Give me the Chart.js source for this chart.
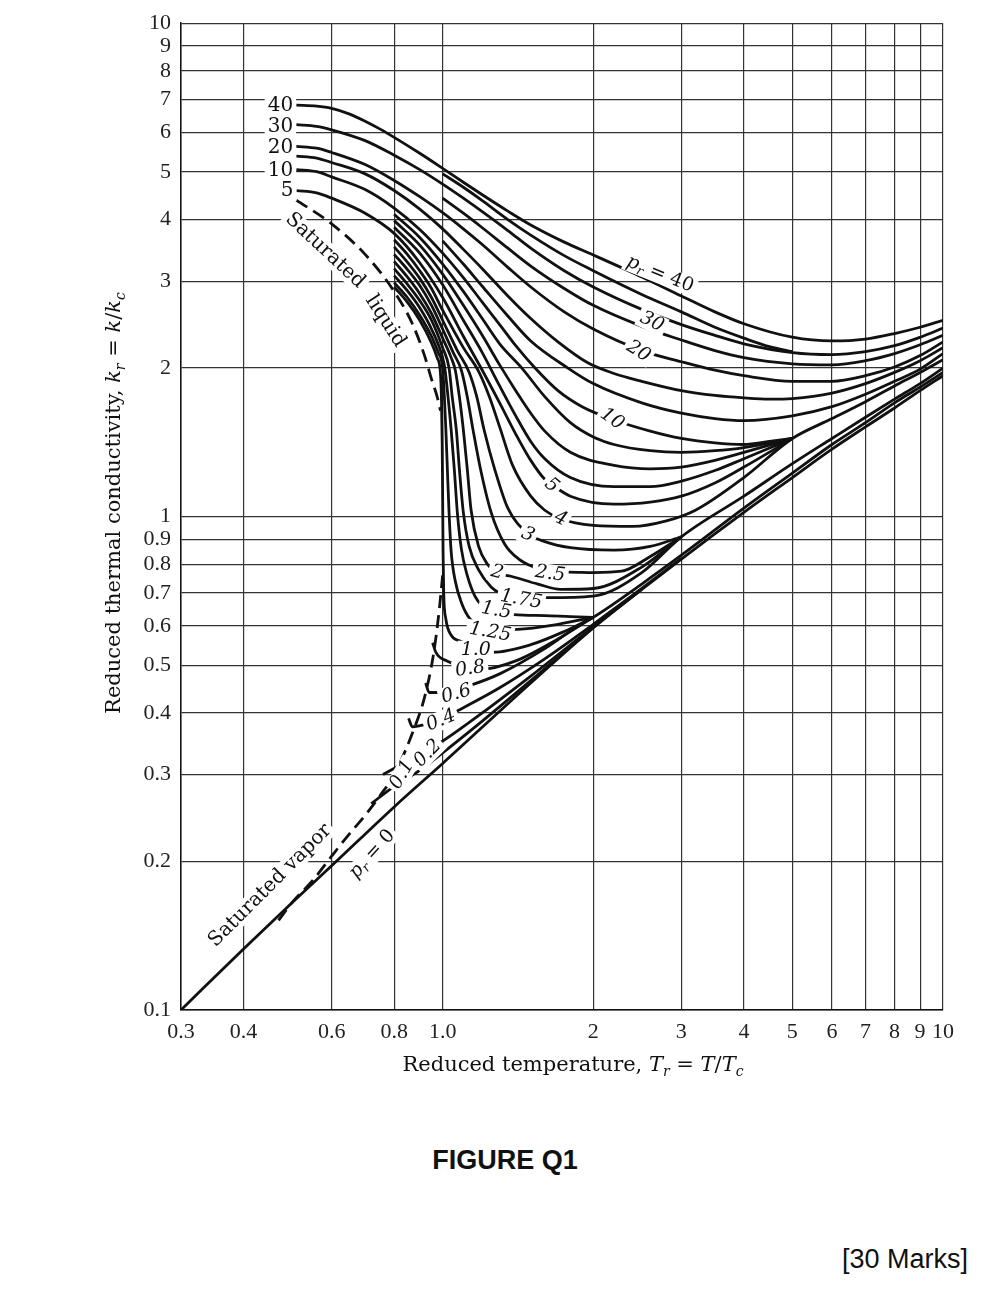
<!DOCTYPE html>
<html>
<head>
<meta charset="utf-8">
<script src="https://cdn.jsdelivr.net/npm/chart.js@4.4.0/dist/chart.umd.min.js"></script>
<style>
  html,body{margin:0;padding:0;background:#fff;}
  #wrap{position:relative;width:1002px;height:1290px;}
  canvas{position:absolute;left:0;top:0;}
  .foot{position:absolute;font-family:"Liberation Sans",Arial,sans-serif;color:#111;}
</style>
</head>
<body>
<div id="wrap">
<canvas id="c" width="1002" height="1100"></canvas>
<div class="foot" style="left:0;width:1010px;top:1145px;text-align:center;font-weight:bold;font-size:27px;">FIGURE Q1</div>
<div class="foot" style="right:34px;top:1244px;font-size:27px;">[30 Marks]</div>
</div>
<script>
// ---------- axis ticks ----------
const xTickVals = [0.3,0.4,0.6,0.8,1,2,3,4,5,6,7,8,9,10];
const xTickLabels = ['0.3','0.4','0.6','0.8','1.0','2','3','4','5','6','7','8','9','10'];
const yTickVals = [0.1,0.2,0.3,0.4,0.5,0.6,0.7,0.8,0.9,1,2,3,4,5,6,7,8,9,10];
const yTickLabels = ['0.1','0.2','0.3','0.4','0.5','0.6','0.7','0.8','0.9','1','2','3','4','5','6','7','8','9','10'];

// ---------- curves [Tr, kr] ----------
const pr40 = [[0.51,6.82],[0.56,6.79],[0.6,6.72],[0.65,6.55],[0.7,6.33],[0.75,6.1],[0.8,5.87],[0.9,5.45],[1.0,5.08],[1.1,4.76],[1.2,4.49],[1.35,4.16],[1.5,3.9],[1.75,3.6],[2,3.39],[2.5,3.06],[3,2.8],[3.5,2.6],[4,2.46],[5,2.31],[6,2.27],[7,2.29],[8,2.35],[9,2.42],[10,2.5]];
const prA  = [[1.0,4.95],[1.1,4.65],[1.2,4.37],[1.35,4.0],[1.5,3.72],[1.75,3.38],[2,3.15],[2.5,2.82],[3,2.6],[3.5,2.42],[4,2.3],[4.5,2.21],[5,2.16]];
const pr30 = [[0.51,6.23],[0.56,6.18],[0.6,6.08],[0.7,5.78],[0.8,5.4],[0.9,5.05],[1.0,4.72],[1.1,4.42],[1.2,4.15],[1.35,3.8],[1.5,3.5],[1.75,3.15],[2,2.92],[2.5,2.63],[3,2.45],[3.5,2.33],[4,2.24],[5,2.15],[6,2.13],[7,2.16],[8,2.22],[9,2.31],[10,2.41]];
const prB  = [[1.0,4.42],[1.1,4.12],[1.2,3.85],[1.35,3.5],[1.5,3.22],[1.75,2.9],[2,2.68],[2.5,2.43],[3,2.28],[3.5,2.17],[4,2.1],[5,2.04],[6,2.03],[7,2.07],[8,2.14],[9,2.23],[10,2.33]];
const pr20 = [[0.51,5.63],[0.56,5.58],[0.6,5.47],[0.7,5.17],[0.8,4.8],[0.9,4.45],[1.0,4.13],[1.1,3.83],[1.2,3.56],[1.35,3.2],[1.5,2.92],[1.75,2.6],[2,2.4],[2.5,2.17],[3,2.06],[3.5,1.98],[4,1.93],[5,1.88],[6,1.88],[7,1.93],[8,2.01],[9,2.12],[10,2.26]];
const prU  = [[0.51,5.38],[0.56,5.33],[0.6,5.22],[0.7,4.95],[0.8,4.58],[0.9,4.2],[1.0,3.83],[1.1,3.48],[1.2,3.18],[1.35,2.8],[1.5,2.52],[1.7,2.26],[1.95,2.05],[2.2,1.95],[2.5,1.88],[3,1.8],[3.5,1.76],[4,1.74],[4.5,1.73],[5,1.735],[6,1.78],[7,1.86],[8,1.96],[9,2.07],[10,2.2]];
const prU2 = [[1.0,3.62],[1.1,3.25],[1.2,2.93],[1.35,2.55],[1.5,2.27],[1.78,2.0],[2,1.86],[2.5,1.7],[3,1.62],[3.5,1.58],[4,1.565],[5,1.6],[6,1.67],[7,1.77],[8,1.88],[9,1.99],[10,2.14]];
const pr10 = [[0.51,5.05],[0.56,5.0],[0.6,4.88],[0.7,4.6],[0.8,4.22],[0.9,3.82],[1.0,3.42],[1.1,3.05],[1.2,2.72],[1.3,2.45],[1.4,2.22],[1.53,2.0],[1.7,1.8],[1.9,1.67],[2.18,1.575],[2.6,1.49],[3,1.44],[3.5,1.41],[4,1.4],[4.5,1.42],[5,1.44]];
const pr8  = [[0.8,4.1],[0.9,3.68],[1.0,3.25],[1.1,2.86],[1.2,2.52],[1.3,2.24],[1.44,2.0],[1.6,1.75],[1.8,1.55],[2.0,1.45],[2.2,1.4],[2.6,1.36],[3,1.35],[3.5,1.36],[4,1.38],[5,1.44]];
const pr7  = [[0.8,3.98],[0.9,3.55],[1.0,3.1],[1.1,2.68],[1.2,2.33],[1.3,2.03],[1.4,1.8],[1.5,1.62],[1.6,1.49],[1.8,1.35],[2.2,1.27],[2.6,1.25],[3,1.26],[3.5,1.3],[4,1.35],[5,1.44]];
const pr6  = [[0.8,3.86],[0.9,3.42],[1.0,2.95],[1.1,2.5],[1.2,2.15],[1.3,1.84],[1.4,1.6],[1.5,1.42],[1.6,1.31],[1.8,1.2],[2.2,1.15],[2.6,1.15],[3,1.18],[3.5,1.24],[4,1.31],[5,1.44]];
const pr5  = [[0.51,4.58],[0.56,4.53],[0.6,4.42],[0.7,4.12],[0.8,3.75],[0.9,3.27],[1.0,2.78],[1.1,2.32],[1.2,1.98],[1.3,1.7],[1.4,1.47],[1.5,1.3],[1.6,1.19],[1.66,1.157],[1.8,1.1],[2.2,1.06],[2.6,1.07],[3,1.1],[3.5,1.17],[4,1.26],[5,1.44]];
const pr4  = [[0.8,3.64],[0.85,3.4],[0.9,3.15],[0.95,2.9],[1.0,2.62],[1.1,2.2],[1.18,1.97],[1.24,1.75],[1.3,1.52],[1.38,1.27],[1.5,1.1],[1.6,1.03],[1.72,0.99],[2,0.96],[2.4,0.955],[2.8,0.98],[3.2,1.03],[4,1.2],[5,1.44],[6,1.58],[7,1.71],[8,1.84],[9,1.96],[10,2.08]];
const pr3  = [[0.8,3.52],[0.85,3.28],[0.9,3.04],[0.95,2.78],[1.0,2.5],[1.07,2.17],[1.13,1.96],[1.17,1.75],[1.21,1.5],[1.27,1.25],[1.35,1.04],[1.48,0.925],[1.6,0.89],[1.8,0.865],[2.2,0.855],[2.6,0.87],[3,0.91]];
const pr25 = [[0.8,3.4],[0.85,3.17],[0.9,2.94],[0.95,2.68],[1.0,2.4],[1.05,2.15],[1.09,1.98],[1.12,1.75],[1.15,1.5],[1.19,1.25],[1.25,1.02],[1.33,0.88],[1.42,0.82],[1.52,0.79],[1.63,0.77],[1.79,0.772],[2,0.77],[2.28,0.775],[2.6,0.83],[3,0.91]];
const pr2  = [[0.8,3.29],[0.85,3.06],[0.9,2.83],[0.95,2.58],[1.0,2.3],[1.04,2.1],[1.06,1.98],[1.08,1.75],[1.1,1.5],[1.12,1.25],[1.14,1.03],[1.18,0.87],[1.23,0.8],[1.28,0.77],[1.37,0.757],[1.55,0.73],[1.72,0.712],[2,0.715],[2.5,0.79],[3,0.91]];
const pr175= [[0.8,3.18],[0.85,2.96],[0.9,2.74],[0.95,2.5],[1.0,2.2],[1.03,2.0],[1.045,1.75],[1.065,1.5],[1.08,1.25],[1.1,1.02],[1.13,0.87],[1.18,0.78],[1.25,0.72],[1.3,0.7],[1.43,0.685],[1.62,0.685],[2,0.69],[2.5,0.77],[3,0.91],[4,1.1],[5,1.28],[6,1.44],[7,1.59],[8,1.73],[9,1.86],[10,2.0]];
const pr15 = [[0.8,3.08],[0.85,2.87],[0.9,2.65],[0.95,2.4],[1.0,2.1],[1.01,2.0],[1.025,1.75],[1.04,1.5],[1.055,1.25],[1.07,1.02],[1.09,0.86],[1.12,0.76],[1.16,0.69],[1.2,0.66],[1.28,0.645],[1.39,0.633],[1.6,0.63],[1.8,0.627],[2,0.625]];
const pr125= [[0.8,2.98],[0.85,2.78],[0.9,2.56],[0.95,2.32],[0.98,2.15],[1.0,2.0],[1.008,1.75],[1.015,1.5],[1.022,1.25],[1.03,1.02],[1.04,0.85],[1.06,0.74],[1.09,0.67],[1.135,0.62],[1.24,0.59],[1.41,0.591],[1.7,0.605],[2,0.625]];
const pr1  = [[0.8,2.92],[0.85,2.72],[0.9,2.5],[0.95,2.25],[0.975,2.1],[0.99,1.95],[0.995,1.7],[0.998,1.4],[1.0,1.1],[1.002,0.85],[1.005,0.7],[1.015,0.62],[1.04,0.575],[1.08,0.56],[1.16,0.545],[1.26,0.531],[1.5,0.55],[1.75,0.585],[2,0.625]];
const pr08 = [[0.955,0.555],[0.97,0.53],[1.02,0.51],[1.19,0.49],[1.4,0.51],[1.7,0.565],[2,0.625]];
const pr06 = [[0.925,0.46],[0.94,0.44],[1.0,0.44],[1.135,0.455],[1.3,0.48],[1.6,0.54],[1.886,0.605],[2,0.625],[2.5,0.73],[3,0.835],[4,1.04],[5,1.225],[6,1.4],[7,1.55],[8,1.7],[9,1.83],[10,1.96]];
const pr04 = [[0.855,0.39],[0.87,0.375],[0.93,0.38],[1.0,0.39],[1.1,0.41],[1.3,0.45],[1.6,0.515],[2,0.605],[2.5,0.715],[3,0.823]];
const pr02 = [[0.76,0.3],[0.82,0.313],[0.9,0.33],[0.98,0.346],[1.2,0.4],[1.5,0.475],[2,0.598],[2.5,0.712]];
const pr01 = [[0.72,0.262],[0.8,0.284],[0.9,0.306],[1.0,0.332],[1.2,0.385],[1.5,0.465],[2,0.596]];
const pr0  = [[0.3,0.1],[0.4,0.133],[0.5,0.165],[0.6,0.196],[0.8,0.258],[1.0,0.316],[1.5,0.46],[2,0.595],[3,0.82],[4,1.02],[5,1.2],[6,1.37],[7,1.52],[8,1.66],[9,1.8],[10,1.93]];
const satLiquid = [[0.51,4.38],[0.6,3.92],[0.7,3.4],[0.8,2.86],[0.87,2.46],[0.92,2.12],[0.95,1.9],[0.975,1.75],[0.99,1.64]];
const satVapor  = [[0.47,0.152],[0.5,0.165],[0.55,0.183],[0.6,0.205],[0.65,0.227],[0.7,0.248],[0.75,0.272],[0.8,0.3],[0.88,0.375],[0.92,0.43],[0.96,0.53],[0.985,0.65],[1.0,0.76]];

const solidCurves = [pr40,prA,pr30,prB,pr20,prU,prU2,pr10,pr8,pr7,pr6,pr5,pr4,pr3,pr25,pr2,pr175,pr15,pr125,pr1,pr08,pr06,pr04,pr02,pr01,pr0];
const dashedCurves = [satLiquid, satVapor];

// ---------- annotation text (anchored in data coords) ----------
const I = 'i', S = 's';
const annotations = [
  {segs:[['40','']], x:0.474, y:6.81, r:0, size:20},
  {segs:[['30','']], x:0.474, y:6.17, r:0, size:20},
  {segs:[['20','']], x:0.474, y:5.58, r:0, size:20},
  {segs:[['10','']], x:0.474, y:5.03, r:0, size:20},
  {segs:[['5','']],  x:0.489, y:4.57, r:0, size:20},
  {segs:[['Saturated','']], x:0.582, y:3.46, r:43, size:20},
  {segs:[['liquid','']], x:0.768, y:2.49, r:57, size:20},
  {segs:[['Saturated vapor','']], x:0.452, y:0.1787, r:-45, size:20},
  {segs:[['p',I],['r',S],[' = 0','']], x:0.723, y:0.207, r:-48, size:19},
  {segs:[['p',I],['r',S],[' = 40','']], x:2.72, y:3.1, r:22, size:19},
  {segs:[['30',I]], x:2.62, y:2.48, r:25, size:19},
  {segs:[['20',I]], x:2.46, y:2.16, r:32, size:19},
  {segs:[['10',I]], x:2.18, y:1.575, r:35, size:19},
  {segs:[['5',I]],  x:1.65, y:1.157, r:40, size:19},
  {segs:[['4',I]],  x:1.72, y:0.99, r:25, size:19},
  {segs:[['3',I]],  x:1.48, y:0.918, r:25, size:19},
  {segs:[['2',I]],  x:1.285, y:0.77, r:15, size:19},
  {segs:[['2.5',I]], x:1.64, y:0.765, r:8, size:19},
  {segs:[['1.75',I]], x:1.435, y:0.679, r:10, size:19},
  {segs:[['1.5',I]], x:1.28, y:0.645, r:10, size:19},
  {segs:[['1.25',I]], x:1.244, y:0.583, r:10, size:19},
  {segs:[['1.0',I]], x:1.165, y:0.536, r:0, size:19},
  {segs:[['0.8',I]], x:1.135, y:0.491, r:-8, size:19},
  {segs:[['0.6',I]], x:1.065, y:0.437, r:-15, size:19},
  {segs:[['0.4',I]], x:0.993, y:0.386, r:-22, size:19},
  {segs:[['0.2',I]], x:0.934, y:0.331, r:-45, size:19},
  {segs:[['0.1',I]], x:0.83, y:0.30, r:-60, size:19}
];

const SERIF = '"Liberation Serif","DejaVu Serif",serif';
const WIDE_SERIF = '"DejaVu Serif","Liberation Serif",serif';

function segFont(seg, size, fam){
  const it = seg[1].indexOf('i')>=0 || seg[1].indexOf('s')>=0;
  const sz = seg[1].indexOf('s')>=0 ? Math.round(size*0.68) : size;
  return (it?'italic ':'') + sz + 'px ' + (fam||WIDE_SERIF);
}
function drawRich(ctx, segs, cx, cy, rot, size, bg, fam){
  ctx.save();
  ctx.translate(cx, cy);
  ctx.rotate(rot*Math.PI/180);
  ctx.textBaseline = 'middle';
  ctx.textAlign = 'left';
  let w = 0; const ws = [];
  segs.forEach(s => { ctx.font = segFont(s,size,fam); const m = ctx.measureText(s[0]).width; ws.push(m); w += m; });
  if (bg){
    ctx.fillStyle = '#fff';
    ctx.fillRect(-w/2-3, -size*0.5, w+6, size*1.0);
  }
  ctx.fillStyle = '#111';
  let x = -w/2;
  segs.forEach((s,i) => {
    ctx.font = segFont(s,size,fam);
    const dy = s[1].indexOf('s')>=0 ? size*0.28 : 0;
    ctx.fillText(s[0], x, dy);
    x += ws[i];
  });
  ctx.restore();
}

const annotPlugin = {
  id:'annot',
  afterDatasetsDraw(chart){
    const ctx = chart.ctx, xs = chart.scales.x, ys = chart.scales.y;
    annotations.forEach(a => {
      drawRich(ctx, a.segs, xs.getPixelForValue(a.x), ys.getPixelForValue(a.y), a.r, a.size, true);
    });
  },
  afterDraw(chart){
    const ctx = chart.ctx, ca = chart.chartArea;
    drawRich(ctx, [['Reduced temperature, ',''],['T',I],['r',S],[' = ',''],['T',I],['/',''],['T',I],['c',S]],
      573, ca.bottom + 56, 0, 21, false);
    drawRich(ctx, [['Reduced thermal conductivity, ',''],['k',I],['r',S],[' = ',''],['k',I],['/',''],['k',I],['c',S]],
      115, 503, -90, 21, false);
  }
};

function toXY(arr){ return arr.map(p => ({x:p[0], y:p[1]})); }
const datasets = [];
solidCurves.forEach(c => datasets.push({data:toXY(c), borderColor:'#111', borderWidth:2.8, pointRadius:0, fill:false, cubicInterpolationMode:'monotone'}));
dashedCurves.forEach(c => datasets.push({data:toXY(c), borderColor:'#111', borderWidth:2.8, borderDash:[13,7], pointRadius:0, fill:false, cubicInterpolationMode:'monotone'}));

const gridOpts = {color:'#333', lineWidth:1.2, drawTicks:false};
new Chart(document.getElementById('c').getContext('2d'), {
  type:'line',
  data:{datasets},
  plugins:[annotPlugin],
  options:{
    responsive:false, animation:false,
    layout:{padding:{top:17, right:59, left:0, bottom:0}},
    plugins:{legend:{display:false}, tooltip:{enabled:false}},
    scales:{
      x:{type:'logarithmic', min:0.3, max:10,
        afterBuildTicks(s){ s.ticks = xTickVals.map(v => ({value:v})); },
        afterFit(s){ s.height = 90; },
        ticks:{autoSkip:false, maxRotation:0, padding:9, color:'#222', font:{family:SERIF, size:22},
          callback:(v)=> xTickLabels[xTickVals.indexOf(v)]},
        grid:gridOpts, border:{color:'#111', width:1.5}},
      y:{type:'logarithmic', min:0.1, max:10,
        afterBuildTicks(s){ s.ticks = yTickVals.map(v => ({value:v})); },
        afterFit(s){ s.width = 181; },
        ticks:{autoSkip:false, padding:10, color:'#222', font:{family:SERIF, size:22},
          callback:(v)=> yTickLabels[yTickVals.indexOf(v)]},
        grid:gridOpts, border:{color:'#111', width:1.5}}
    }
  }
});
</script>
</body>
</html>
